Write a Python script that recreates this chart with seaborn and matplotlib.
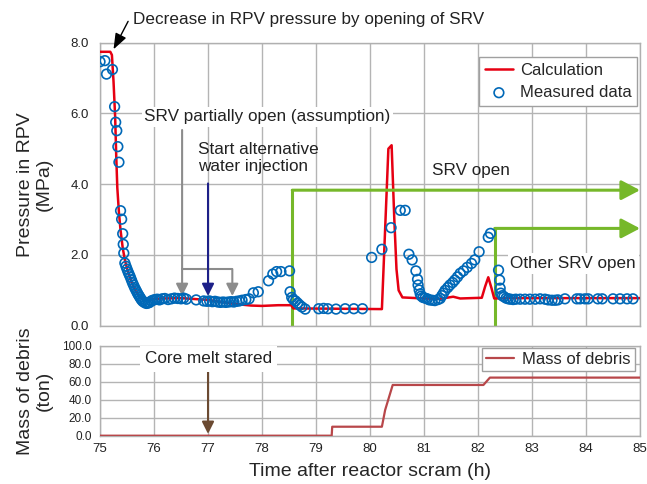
import numpy as np
import pandas as pd
import matplotlib
matplotlib.use("Agg")
import matplotlib.pyplot as plt
import seaborn as sns

# measured RPV pressure (h, MPa)
meas_t = [75.00, 75.09, 75.12, 75.23, 75.27, 75.29, 75.31, 75.33, 75.35, 75.38,
          75.40, 75.42, 75.43, 75.44, 75.46, 75.48, 75.50, 75.52, 75.54, 75.56,
          75.58, 75.60, 75.62, 75.64, 75.66, 75.68, 75.70, 75.72, 75.74, 75.76,
          75.78, 75.80, 75.83, 75.86, 75.89, 75.92, 75.95, 75.98, 76.02, 76.06,
          76.10, 76.15, 76.20, 76.26, 76.32, 76.38, 76.44, 76.50, 76.55, 76.60,
          76.78, 76.92, 76.98, 77.03, 77.08, 77.13, 77.18, 77.23, 77.28, 77.33,
          77.38, 77.43, 77.48, 77.53, 77.58, 77.63, 77.70, 77.76, 77.84, 77.93,
          78.12, 78.20, 78.27, 78.35, 78.51, 78.52, 78.55, 78.58, 78.62, 78.66,
          78.70, 78.74, 78.80, 79.05, 79.14, 79.22, 79.37, 79.54, 79.70, 79.86,
          80.03, 80.22, 80.39, 80.56, 80.65, 80.72, 80.78, 80.85, 80.88, 80.89,
          80.91, 80.93, 80.95, 80.98, 81.02, 81.06, 81.10, 81.15, 81.20, 81.26,
          81.30, 81.33, 81.36, 81.39, 81.44, 81.48, 81.53, 81.57, 81.62, 81.67,
          81.73, 81.80, 81.88, 81.94, 82.02, 82.19, 82.23, 82.38, 82.40, 82.41,
          82.42, 82.45, 82.48, 82.52, 82.56, 82.60, 82.65, 82.70, 82.78, 82.87,
          82.96, 83.06, 83.15, 83.24, 83.30, 83.37, 83.43, 83.48, 83.61, 83.83,
          83.89, 83.98, 84.04, 84.22, 84.30, 84.50, 84.63, 84.76, 84.87]
meas_p = [7.46, 7.49, 7.11, 7.24, 6.19, 5.75, 5.51, 5.06, 4.62, 3.25,
          3.01, 2.60, 2.30, 2.05, 1.77, 1.68, 1.60, 1.52, 1.45, 1.38,
          1.30, 1.22, 1.15, 1.08, 1.02, 0.96, 0.90, 0.85, 0.80, 0.75,
          0.71, 0.68, 0.65, 0.63, 0.64, 0.66, 0.70, 0.72, 0.74, 0.75,
          0.73, 0.76, 0.77, 0.74, 0.76, 0.78, 0.77, 0.76, 0.78, 0.75,
          0.73, 0.70, 0.69, 0.70, 0.68, 0.69, 0.67, 0.66, 0.67, 0.66,
          0.67, 0.68, 0.67, 0.69, 0.70, 0.72, 0.74, 0.76, 0.93, 0.96,
          1.27, 1.46, 1.53, 1.53, 1.55, 0.96, 0.80, 0.74, 0.70, 0.64,
          0.58, 0.53, 0.47, 0.48, 0.49, 0.48, 0.47, 0.48, 0.48, 0.48,
          1.93, 2.16, 2.77, 3.26, 3.26, 2.02, 1.86, 1.55, 1.31, 1.15,
          1.01, 0.90, 0.84, 0.80, 0.78, 0.76, 0.73, 0.72, 0.71, 0.74,
          0.77, 0.85, 0.92, 1.00, 1.08, 1.15, 1.22, 1.29, 1.38, 1.48,
          1.55, 1.65, 1.76, 1.86, 2.09, 2.50, 2.61, 1.57, 1.29, 1.06,
          0.92, 0.85, 0.82, 0.78, 0.76, 0.75, 0.74, 0.75, 0.75, 0.75,
          0.75, 0.75, 0.76, 0.75, 0.73, 0.72, 0.72, 0.73, 0.76, 0.76,
          0.76, 0.76, 0.76, 0.76, 0.76, 0.76, 0.76, 0.76, 0.76]

# calculated RPV pressure
calc_t = [75.00, 75.19, 75.22, 75.25, 75.28, 75.30, 75.32, 75.35, 75.38, 75.42,
          75.46, 75.52, 75.59, 75.67, 75.75, 75.83, 75.95, 76.14, 76.50, 77.00,
          77.47, 77.80, 78.00, 78.30, 78.54, 78.58, 80.22, 80.34, 80.40, 80.45,
          80.49, 80.53, 80.60, 81.00, 81.30, 81.54, 81.67, 82.07, 82.13, 82.19,
          82.25, 82.30, 82.50, 85.00]
calc_p = [7.74, 7.74, 7.65, 6.90, 5.90, 4.80, 3.90, 3.20, 2.70, 2.20,
          1.86, 1.50, 1.20, 0.95, 0.80, 0.73, 0.74, 0.77, 0.78, 0.73,
          0.62, 0.57, 0.56, 0.58, 0.58, 0.49, 0.47, 5.00, 5.10, 3.00,
          1.60, 1.00, 0.80, 0.77, 0.76, 0.82, 0.77, 0.79, 1.10, 1.37,
          1.06, 0.77, 0.78, 0.78]

# mass of debris (ton)
debris_t = [75.00, 79.29, 79.30, 80.22, 80.28, 80.42, 82.10, 82.22, 85.00]
debris_m = [0.0, 0.0, 10.0, 10.0, 28.6, 56.5, 56.5, 64.7, 64.7]

x_ticks = list(range(75, 86))
p_ticks = [0.0, 2.0, 4.0, 6.0, 8.0]
m_ticks = [0.0, 20.0, 40.0, 60.0, 80.0, 100.0]

RED = "#e60012"
BLUE = "#0068b7"
GREEN = "#76b82a"
GRAY = "#8c8c8c"
NAVY = "#1d2088"
BROWN = "#6b4a32"
DEBRIS = "#b8474a"

sns.set_theme(style="whitegrid", rc={
    "axes.edgecolor": "#b0b0b0",
    "grid.color": "#b4b4b4",
    "grid.linewidth": 1.0,
    "axes.linewidth": 1.0,
})
plt.rcParams["font.family"] = ["Liberation Sans", "DejaVu Sans"]

fig = plt.figure(figsize=(6.47, 4.84), dpi=100)
ax1 = fig.add_axes([0.1546, 0.327, 0.8346, 0.585])
ax2 = fig.add_axes([0.1546, 0.0998, 0.8346, 0.1855])

calc_df = pd.DataFrame({"t": calc_t, "p": calc_p})
meas_df = pd.DataFrame({"t": meas_t, "p": meas_p})
deb_df = pd.DataFrame({"t": debris_t, "m": debris_m})

sns.lineplot(data=calc_df, x="t", y="p", ax=ax1, color=RED, lw=1.8,
             estimator=None, sort=False, label="Calculation", zorder=3)
sns.scatterplot(data=meas_df, x="t", y="p", ax=ax1, marker="o", s=48,
                facecolor="none", edgecolor=BLUE, linewidth=1.2,
                label="Measured data", zorder=4)
sns.lineplot(data=deb_df, x="t", y="m", ax=ax2, color=DEBRIS, lw=1.6,
             estimator=None, sort=False, label="Mass of debris", zorder=3)

for ax in (ax1, ax2):
    ax.set_xlim(75, 85)
    ax.set_xticks(x_ticks)
    ax.tick_params(length=0, colors="#222222")
    ax.set_xlabel("")
ax1.set_ylim(0, 8)
ax1.set_yticks(p_ticks)
ax1.set_yticklabels([f"{v:.1f}" for v in p_ticks], fontsize=9.5)
ax1.tick_params(axis="y", pad=8)
ax1.set_xticklabels([])
ax2.set_ylim(0, 100)
ax2.set_yticks(m_ticks)
ax2.set_yticklabels([f"{v:.1f}" for v in m_ticks], fontsize=8.5)
ax2.tick_params(axis="y", pad=6)
ax2.set_xticklabels([str(v) for v in x_ticks], fontsize=9.5)
ax2.tick_params(axis="x", pad=5)

ax1.set_ylabel("Pressure in RPV\n(MPa)", fontsize=14, linespacing=1.1)
ax2.set_ylabel("Mass of debris\n(ton)", fontsize=14, linespacing=1.1)
ax1.yaxis.set_label_coords(-0.088, 0.5)
ax2.yaxis.set_label_coords(-0.088, 0.5)
ax2.set_xlabel("Time after reactor scram (h)", fontsize=14, labelpad=6)

leg1 = ax1.legend(loc="upper right", bbox_to_anchor=(0.995, 0.95), borderaxespad=0,
                  fontsize=12, fancybox=False, framealpha=1, edgecolor="#a0a0a0",
                  handlelength=1.7, handletextpad=0.4, labelspacing=0.45, borderpad=0.35)
leg1.get_frame().set_linewidth(1.0)
leg2 = ax2.legend(loc="upper right", bbox_to_anchor=(0.991, 0.98), borderaxespad=0,
                  fontsize=12, fancybox=False, framealpha=1, edgecolor="#a0a0a0",
                  handlelength=1.7, handletextpad=0.5, borderpad=0.25)
leg2.get_frame().set_linewidth(1.0)


def arrow(ax, x0, y0, x1, y1, color, lw=1.5, hl=0.6, hw=0.3):
    ax.annotate("", xy=(x1, y1), xytext=(x0, y0), annotation_clip=False,
                arrowprops=dict(arrowstyle=f"-|>,head_length={hl},head_width={hw}",
                                color=color, lw=lw, shrinkA=0, shrinkB=0))


white = dict(boxstyle="square,pad=0.15", fc="white", ec="none")

# top annotations
ax1.text(75.61, 8.64, "Decrease in RPV pressure by opening of SRV", fontsize=12.3,
         va="center", ha="left", color="#222222", clip_on=False)
arrow(ax1, 75.52, 8.60, 75.25, 7.81, "black", lw=1.0, hl=0.8, hw=0.3)

ax1.text(75.82, 5.90, "SRV partially open (assumption)", fontsize=12.3, va="center",
         ha="left", color="#222222", bbox=white, zorder=5)
ax1.text(76.81, 4.75, "Start alternative\nwater injection", fontsize=12.3, va="center",
         ha="left", color="#222222", linespacing=1.15, zorder=5)
ax1.text(81.15, 4.40, "SRV open", fontsize=12.3, va="center", ha="left", color="#222222")
ax1.text(82.6, 1.76, "Other SRV open", fontsize=12.3, va="center", ha="left",
         color="#222222", bbox=white, zorder=5)

arrow(ax1, 76.52, 5.53, 76.52, 0.84, GRAY)
ax1.plot([76.52, 77.45], [1.6, 1.6], color=GRAY, lw=1.5)
arrow(ax1, 77.45, 1.6, 77.45, 0.84, GRAY)
arrow(ax1, 77.0, 4.02, 77.0, 0.84, NAVY)

ax1.plot([78.56, 78.56], [0, 3.83], color=GREEN, lw=2.2, zorder=2.5)
arrow(ax1, 78.56, 3.83, 85.0, 3.83, GREEN, lw=2.2, hl=0.95, hw=0.5)
ax1.plot([82.31, 82.31], [0, 2.75], color=GREEN, lw=2.2, zorder=2.5)
arrow(ax1, 82.31, 2.75, 85.0, 2.75, GREEN, lw=2.2, hl=0.95, hw=0.5)

# bottom annotations
ax2.text(75.83, 85.5, "Core melt stared", fontsize=12.3, va="center", ha="left",
         color="#222222", bbox=dict(boxstyle="square,pad=0.3", fc="white", ec="none"),
         zorder=5)
arrow(ax2, 77.0, 75.0, 77.0, 2.0, BROWN)

fig.savefig("out.png", dpi=100)
